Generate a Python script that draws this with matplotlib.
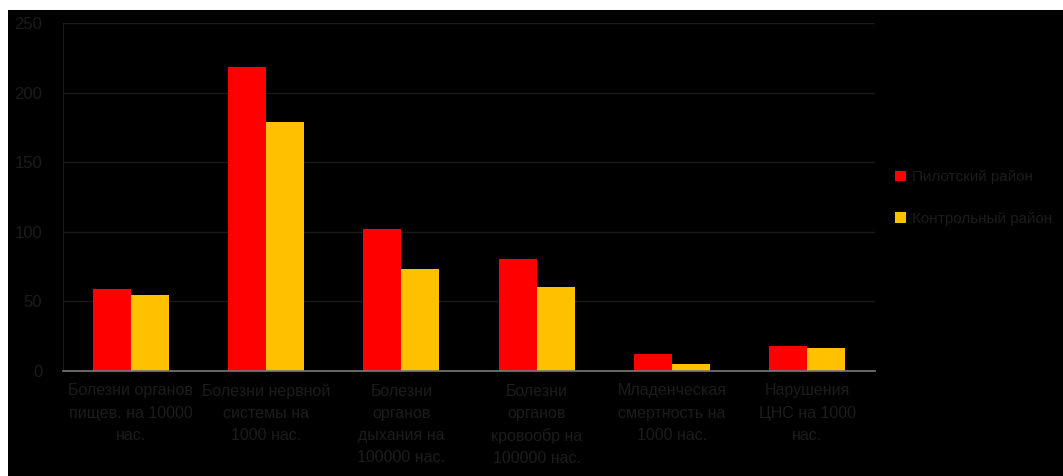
import matplotlib
matplotlib.use("Agg")
import matplotlib.pyplot as plt
from matplotlib.patches import Rectangle
import numpy as np

plt.rcParams['font.family'] = ['Liberation Sans', 'DejaVu Sans']

categories = [
    "Болезни органов\nпищев. на 10000\nнас.",
    "Болезни нервной\nсистемы на\n1000 нас.",
    "Болезни\nорганов\nдыхания на\n100000 нас.",
    "Болезни\nорганов\nкровообр на\n100000 нас.",
    "Младенческая\nсмертность на\n1000 нас.",
    "Нарушения\nЦНС на 1000\nнас.",
]
pilot_values = [58.7, 218.8, 101.9, 80.3, 12.2, 18.2]
control_values = [54.6, 179.2, 73.5, 60.6, 4.8, 16.3]
series_names = ["Пилотский район", "Контрольный район"]
y_ticks = [0, 50, 100, 150, 200, 250]

W, H = 1063, 476
fig = plt.figure(figsize=(W / 100, H / 100), dpi=100)
fig.patch.set_facecolor('white')
fig.add_artist(Rectangle((8 / W, 0), 1, (H - 10) / H, transform=fig.transFigure,
                         facecolor='black', edgecolor='none', zorder=0))

ax = fig.add_axes([63 / W, (H - 371) / H, (875 - 63) / W, (371 - 23.3) / H])
ax.set_facecolor('black')

text_col = '#1c1c1c'
x = np.arange(len(categories))
bw = 0.28
ax.bar(x - bw / 2, pilot_values, bw, color='#FF0000', label=series_names[0], zorder=3)
ax.bar(x + bw / 2, control_values, bw, color='#FFC000', label=series_names[1], zorder=3)

ax.set_xlim(-0.5, len(categories) - 0.5)
ax.set_ylim(0, 250)
ax.set_yticks(y_ticks)
ax.set_yticklabels([str(v) for v in y_ticks], color=text_col, fontsize=12)
ax.set_xticks(x)
ax.set_xticklabels(categories, color=text_col, fontsize=11.5, linespacing=1.6)
ax.tick_params(axis='y', length=0, pad=15)
ax.tick_params(axis='x', length=0, pad=9)

ax.yaxis.grid(True, color='#1a1a1a', linewidth=1, zorder=0)
for s in ['top', 'right']:
    ax.spines[s].set_visible(False)
ax.spines['left'].set_color('#1a1a1a')
ax.spines['bottom'].set_color('#7a7a7a')
ax.spines['bottom'].set_linewidth(1.2)
ax.spines['bottom'].set_zorder(4)

leg = ax.legend(loc='center left', bbox_to_anchor=(1.017, 0.497), frameon=False,
                fontsize=11, labelspacing=1.8, handlelength=0.7, handleheight=0.7,
                handletextpad=0.4, borderaxespad=0)
for t in leg.get_texts():
    t.set_color(text_col)

fig.savefig('out.png', dpi=100, facecolor=fig.get_facecolor())
